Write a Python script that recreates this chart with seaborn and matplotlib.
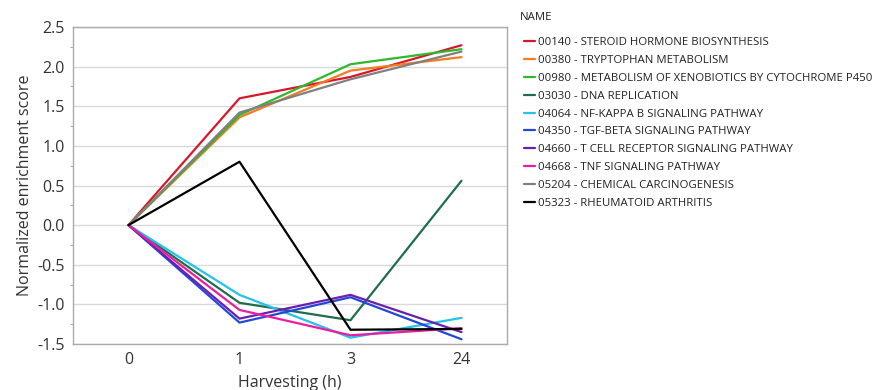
import matplotlib
matplotlib.use("Agg")
import matplotlib.pyplot as plt
import seaborn as sns
import pandas as pd
from matplotlib.ticker import MultipleLocator

times = ["0", "1", "3", "24"]
pathways = [
    "00140 - STEROID HORMONE BIOSYNTHESIS",
    "00380 - TRYPTOPHAN METABOLISM",
    "00980 - METABOLISM OF XENOBIOTICS BY CYTOCHROME P450",
    "03030 - DNA REPLICATION",
    "04064 - NF-KAPPA B SIGNALING PATHWAY",
    "04350 - TGF-BETA SIGNALING PATHWAY",
    "04660 - T CELL RECEPTOR SIGNALING PATHWAY",
    "04668 - TNF SIGNALING PATHWAY",
    "05204 - CHEMICAL CARCINOGENESIS",
    "05323 - RHEUMATOID ARTHRITIS",
]
steroid = [0.0, 1.60, 1.87, 2.27]
tryptophan = [0.0, 1.36, 1.95, 2.12]
xenobiotics = [0.0, 1.39, 2.03, 2.22]
dna_replication = [0.0, -0.98, -1.20, 0.56]
nfkb = [0.0, -0.88, -1.42, -1.17]
tgfb = [0.0, -1.23, -0.91, -1.44]
tcell = [0.0, -1.18, -0.88, -1.35]
tnf = [0.0, -1.07, -1.39, -1.30]
carcinogenesis = [0.0, 1.42, 1.84, 2.19]
rheumatoid = [0.0, 0.80, -1.32, -1.31]
series = [steroid, tryptophan, xenobiotics, dna_replication, nfkb,
          tgfb, tcell, tnf, carcinogenesis, rheumatoid]
colors = ["#d7182a", "#f47b20", "#2db92d", "#1e6e4a", "#22c1ee",
          "#2347d8", "#6a1fb0", "#ec1ca0", "#808080", "#000000"]

rows = []
for name, vals in zip(pathways, series):
    for i, (t, v) in enumerate(zip(times, vals)):
        rows.append({"NAME": name, "pos": i, "Harvesting (h)": t, "NES": v})
df = pd.DataFrame(rows)

sns.set_style("white")
plt.rcParams["font.family"] = ["Open Sans", "DejaVu Sans"]

fig = plt.figure(figsize=(8.77, 3.9), dpi=100)
ax = fig.add_axes([73 / 877, 1 - 344 / 390, (507 - 73) / 877, (344 - 27) / 390])

sns.lineplot(data=df, x="pos", y="NES", hue="NAME", hue_order=pathways,
             palette=colors, linewidth=1.6, ax=ax, legend=True)

ax.set_xlim(-0.5, 3.41)
ax.set_ylim(-1.5, 2.5)
ax.set_xticks(range(len(times)))
ax.set_xticklabels(times)
ax.yaxis.set_major_locator(MultipleLocator(0.5))
ax.yaxis.set_minor_locator(MultipleLocator(0.25))
ax.set_yticklabels([f"{v:.1f}" for v in ax.get_yticks()])
ax.tick_params(axis="both", which="major", length=0, labelsize=11.5, colors="#333333", pad=6)
ax.tick_params(axis="y", which="minor", length=2, left=True, color="#999999")
ax.grid(axis="y", which="major", color="#d9d9d9", linewidth=1)
ax.set_axisbelow(True)
for s in ax.spines.values():
    s.set_color("#aaaaaa")
    s.set_linewidth(1)
ax.set_xlabel("Harvesting (h)", fontsize=11.5, color="#333333", labelpad=5)
ax.set_ylabel("Normalized enrichment score", fontsize=11.5, color="#333333", labelpad=3)

handles, labels = ax.get_legend_handles_labels()
ax.legend_.remove()
fig.text(520 / 877, 1 - 18 / 390, "NAME", fontsize=8.2, color="#222222",
         ha="left", va="center")
leg = fig.legend(handles, labels, loc="upper left",
                 bbox_to_anchor=(514 / 877, 1 - 27 / 390), frameon=False,
                 fontsize=8.2, handlelength=0.9,
                 handletextpad=0.3, labelspacing=0.6)
for line in leg.get_lines():
    line.set_linewidth(1.6)
for t in leg.get_texts():
    t.set_color("#222222")

fig.savefig("out.png", dpi=100)
